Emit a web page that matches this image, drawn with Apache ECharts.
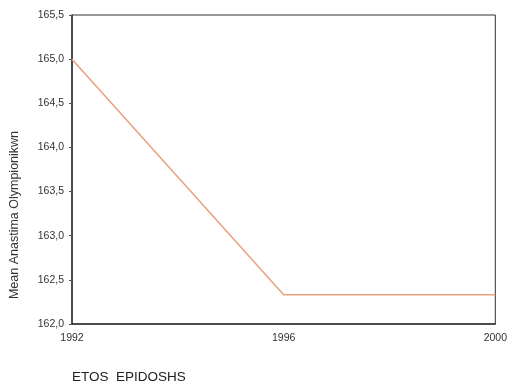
<!DOCTYPE html>
<html>
<head>
<meta charset="utf-8">
<script src="https://cdn.jsdelivr.net/npm/echarts@6/dist/echarts.min.js"></script>
<style>
  html, body { margin: 0; padding: 0; background: #fff; }
  #main { width: 510px; height: 384px; }
</style>
</head>
<body>
<div id="main"></div>
<script>
// data
var years = [1992, 1996, 2000];
var meanHeight = [165.0, 162.33, 162.33];

var chart = echarts.init(document.getElementById('main'));

function comma(v) {
  return v.toFixed(1).replace('.', ',');
}

var option = {
  backgroundColor: '#fff',
  animation: false,
  grid: { left: 72, right: 13, top: 15, bottom: 60, show: true, borderColor: '#333', borderWidth: 1 },
  // y title sits lower than the plot middle in the original, so it is placed by hand
  graphic: [{
    type: 'text',
    x: 15,
    y: 215,
    rotation: Math.PI / 2,
    style: {
      text: 'Mean Anastima Olympionikwn',
      fontFamily: 'Liberation Sans',
      fontSize: 12.5,
      fill: '#333',
      align: 'center',
      verticalAlign: 'middle'
    }
  }],
  xAxis: {
    type: 'value',
    min: 1992,
    max: 2000,
    interval: 4,
    name: 'ETOS  EPIDOSHS',
    nameLocation: 'start',
    nameGap: 0,
    nameTextStyle: { fontFamily: 'Liberation Sans', fontSize: 13.5, color: '#222', align: 'left', verticalAlign: 'top', padding: [46, 0, 0, 0] },
    axisLine: { lineStyle: { color: '#333', width: 1.5 } },
    axisTick: { show: false },
    splitLine: { show: false },
    axisLabel: { fontFamily: 'Liberation Sans', fontSize: 10.5, color: '#333', margin: 9, formatter: function (v) { return String(v); } }
  },
  yAxis: {
    type: 'value',
    min: 162,
    max: 165.5,
    interval: 0.5,
    axisLine: { lineStyle: { color: '#333', width: 1.5 } },
    axisTick: { show: true, length: 3, lineStyle: { color: '#555' } },
    splitLine: { show: false },
    axisLabel: { fontFamily: 'Liberation Sans', fontSize: 10.5, color: '#333', margin: 8, formatter: comma }
  },
  series: [{
    type: 'line',
    data: years.map(function (y, i) { return [y, meanHeight[i]]; }),
    symbol: 'none',
    lineStyle: { color: '#e8a07e', width: 1.5 }
  }]
};

chart.setOption(option);
</script>
</body>
</html>
